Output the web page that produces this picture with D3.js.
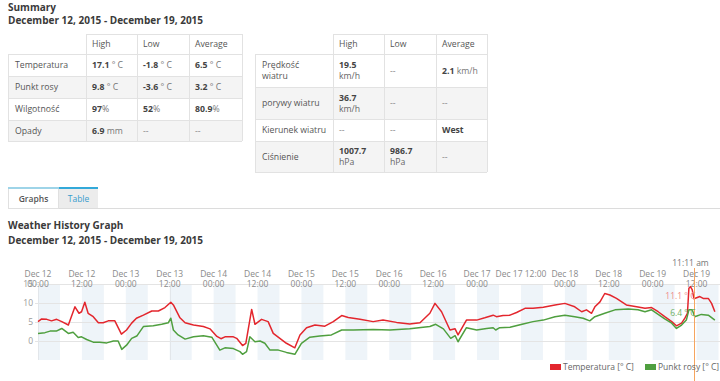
<!DOCTYPE html>
<html>
<head>
<meta charset="utf-8">
<script src="https://cdn.jsdelivr.net/npm/d3@7"></script>
<style>
  body { margin: 0; background: #fff; }
  svg { display: block; font-family: "Open Sans", sans-serif; }
</style>
</head>
<body>
<script>
// ---- summary tables ----
const colHeaders = ['High', 'Low', 'Average']
const summaryLabels = ['Temperatura', 'Punkt rosy', 'Wilgotność', 'Opady']
const summaryCells = [
  [['17.1', ' ° C'], ['-1.8', ' ° C'], ['6.5', ' ° C']],
  [['9.8', ' ° C'], ['-3.6', ' ° C'], ['3.2', ' ° C']],
  [['97', '%'], ['52', '%'], ['80.9', '%']],
  [['6.9', ' mm'], ['--', ''], ['--', '']]
]
const windLabels = [['Prędkość', 'wiatru'], ['porywy wiatru'], ['Kierunek wiatru'], ['Ciśnienie']]
const windCells = [
  [['19.5', 'km/h', true], ['--', ''], ['2.1', ' km/h']],
  [['36.7', 'km/h', true], ['--', ''], ['--', '']],
  [['--', ''], ['--', ''], ['West', '']],
  [['1007.7', 'hPa', true], ['986.7', 'hPa', true], ['--', '']]
]

// ---- graph data (hours after Dec 12 2015 00:00, °C) ----
const tempHours = [0, 1, 2.4, 3.7, 5.1, 6.5, 8.3, 10.1, 11.2, 11.9, 12.8, 13.7, 15.1, 16.5, 17.8, 19.2, 21, 22.8, 24.2, 25.6,
  26.9, 28.8, 31.1, 32.9, 34.7, 36.3, 37, 38.8, 40.2, 42.5, 45.2, 47, 48.9, 50, 51.1, 53.4, 54.3, 55.9, 56.8, 58.4,
  59.3, 61.1, 62.9, 64.3, 66.1, 67.9, 70.2, 71.6, 73.4, 75.7, 78.4, 80.7, 83, 84.8, 88, 91.6, 94.3, 98, 101.6, 104.4,
  107.1, 108.5, 110.3, 112.6, 114, 114.8, 117.1, 119.9, 122.1, 124.4, 125.3, 127.1, 129, 130.8, 133.1, 135.3, 138.1, 141.3, 144, 146.7,
  148.6, 149.9, 151.3, 152.2, 153.6, 154.9, 156.3, 158.1, 160.8, 163.6, 165.9, 167.7, 169.5, 171.3, 173.2, 174.5, 175.9, 176.8, 177.5, 177.9,
  178.3, 178.8, 179.3, 180.9, 181.8, 183.2, 184.1, 185]
const tempValues = [5.1, 5.8, 5.7, 5.3, 5.7, 5.1, 4.2, 9.0, 7.3, 7.7, 10.2, 7.3, 6.4, 4.8, 4.8, 5.3, 5.3, 1.8, 2.9, 4.7,
  6.0, 6.8, 7.9, 7.9, 8.8, 10.2, 9.5, 6.1, 4.8, 4.2, 3.8, 3.2, 1.2, 0.6, 1.1, 1.1, 0.7, -1.2, -0.6, 8.3,
  4.4, 5.7, 5.1, 2.0, 0.7, -0.6, -1.8, 1.6, 3.5, 4.2, 3.9, 5.1, 6.7, 6.2, 5.7, 5.1, 5.5, 4.9, 4.5, 4.8,
  7.3, 9.9, 7.7, 2.9, 3.2, 1.6, 5.5, 5.5, 6.1, 6.8, 6.4, 6.7, 6.8, 7.5, 8.6, 8.6, 8.9, 9.5, 9.9, 9.0,
  7.7, 8.2, 7.3, 9.0, 10.3, 12.5, 12.1, 11.2, 9.5, 9.0, 8.6, 8.8, 7.7, 6.4, 5.1, 4.0, 4.7, 6.0, 7.3, 13.9,
  14.3, 13.5, 11.1, 11.7, 11.2, 11.2, 9.9, 7.7]
const dewHours = [0, 1.9, 3.3, 5, 6.5, 8.3, 9.6, 11, 11.9, 13.3, 15.1, 16.9, 18.8, 20.6, 21.9, 22.9, 24.2, 25.6, 27, 28.8,
  31.5, 33.8, 35.6, 36.3, 37, 38.3, 40.2, 42.5, 45.2, 47.5, 49.7, 51.1, 53.4, 55.2, 55.9, 57, 57.9, 59.3, 60.7, 62,
  63.4, 65.7, 67.9, 70.2, 72, 74.3, 77, 80.2, 83, 86.2, 91.6, 96.2, 101.6, 107.1, 108.7, 110.8, 112.8, 114, 114.8, 117.1,
  119.9, 122.6, 124.4, 125.1, 126.2, 129, 132.6, 135.3, 138.1, 141.3, 144, 146.7, 149, 150.8, 152.2, 154.9, 157.7, 161.3, 164, 165.9,
  167.7, 169.5, 171.3, 173.2, 174.5, 175.9, 177.2, 177.9, 178.8, 179.5, 181.3, 183.2, 185]
const dewValues = [2.0, 2.2, 2.6, 2.6, 3.3, 2.0, 2.3, 0.9, 1.1, 0.4, -0.3, -0.3, -0.5, 0, 0, -2.2, -1.1, 0.7, 1.3, 3.8,
  4.0, 4.4, 4.8, 6.0, 2.9, 1.6, 0.5, 1.1, 1.4, 1.0, -2.4, -1.8, -2.0, -2.8, -3.5, -2.8, 1.1, -0.2, 0, -0.6,
  -2.4, -2.4, -3.0, -3.5, -0.6, 1.0, 1.3, 1.6, 2.9, 2.9, 3.0, 2.9, 3.2, 3.8, 4.4, 3.2, 0.7, 1.4, -0.2, 3.5,
  2.9, 3.3, 3.5, 2.9, 3.5, 3.6, 4.5, 5.1, 5.5, 6.4, 6.8, 6.4, 6.0, 5.3, 6.4, 7.3, 8.2, 8.4, 8.2, 7.7,
  8.2, 7.0, 5.8, 4.7, 3.3, 4.2, 5.5, 8.2, 8.2, 6.4, 7.0, 6.8, 5.5]

const tickHours = [0, 12, 24, 36, 48, 60, 72, 84, 96, 108, 120, 132, 144, 156, 168, 180]
const tickLabels = [['Dec 12', '00:00'], ['Dec 12', '12:00'], ['Dec 13', '00:00'], ['Dec 13', '12:00'],
  ['Dec 14', '00:00'], ['Dec 14', '12:00'], ['Dec 15', '00:00'], ['Dec 15', '12:00'],
  ['Dec 16', '00:00'], ['Dec 16', '12:00'], ['Dec 17', '00:00'], ['Dec 17 12:00'],
  ['Dec 18', '00:00'], ['Dec 18', '12:00'], ['Dec 19', '00:00'], ['Dec 19', '12:00']]
const yTicks = [0, 5, 10, 15]
const cursorHour = 179.18
const cursorLabel = '11:11 am'
const cursorTemp = '11.1 ° C'
const cursorDew = '6.4 ° C'
const seriesNames = ['Temperatura [° C]', 'Punkt rosy [° C]']
const seriesColors = ['#e3262d', '#4f9f3f']

const start = new Date(2015, 11, 12, 0, 0)
const toDate = h => new Date(start.getTime() + h * 3600e3)

const svg = d3.select('body').append('svg')
  .attr('width', 720)
  .attr('height', 381)

// headings
function heading(y, txt) {
  svg.append('text').attr('x', 8).attr('y', y).attr('font-size', 10).attr('font-weight', 700)
    .attr('fill', '#3a3a3a').text(txt)
}
heading(11, 'Summary')
heading(24, 'December 12, 2015 - December 19, 2015')
heading(229, 'Weather History Graph')
heading(244, 'December 12, 2015 - December 19, 2015')

// tables
function drawTable(cols, rows, labels, cells) {
  const g = svg.append('g')
  const x0 = cols[0], x1 = cols[cols.length - 1]
  // striped body rows
  rows.slice(1, -1).forEach((ry, i) => {
    if (i % 2 === 1) {
      g.append('rect').attr('x', x0).attr('y', ry).attr('width', x1 - x0)
        .attr('height', rows[i + 2] - ry).attr('fill', '#f4f4f4')
    }
  })
  // grid lines
  const line = (a, b, c, d) => g.append('line').attr('x1', a).attr('y1', b).attr('x2', c).attr('y2', d)
    .attr('stroke', '#e2e2e2').attr('stroke-width', 1)
  line(cols[1], rows[0] + 0.5, x1, rows[0] + 0.5)
  rows.slice(1).forEach(ry => line(x0, ry + 0.5, x1, ry + 0.5))
  line(x0 + 0.5, rows[1], x0 + 0.5, rows[rows.length - 1])
  cols.slice(1).forEach(cx => line(cx + 0.5, rows[0], cx + 0.5, rows[rows.length - 1]))

  const fs = 8.7
  colHeaders.forEach((h, i) => {
    g.append('text').attr('x', cols[i + 1] + 6).attr('y', (rows[0] + rows[1]) / 2)
      .attr('dy', '0.35em').attr('font-size', fs).attr('fill', '#555').text(h)
  })
  labels.forEach((lab, r) => {
    const cy = (rows[r + 1] + rows[r + 2]) / 2
    const lines = Array.isArray(lab) ? lab : [lab]
    lines.forEach((t, k) => {
      g.append('text').attr('x', x0 + 7).attr('y', cy + (k - (lines.length - 1) / 2) * 11)
        .attr('dy', '0.35em').attr('font-size', fs).attr('fill', '#555').text(t)
    })
    cells[r].forEach((c, ci) => {
      const cx = cols[ci + 1] + 6
      if (c[2]) {
        g.append('text').attr('x', cx).attr('y', cy - 5.5).attr('dy', '0.35em').attr('font-size', fs)
          .attr('font-weight', 700).attr('fill', '#444').text(c[0])
        g.append('text').attr('x', cx).attr('y', cy + 5.5).attr('dy', '0.35em').attr('font-size', fs)
          .attr('fill', '#666').text(c[1])
      } else {
        const t = g.append('text').attr('x', cx).attr('y', cy).attr('dy', '0.35em').attr('font-size', fs)
        t.append('tspan').attr('font-weight', c[0] === '--' ? 400 : 700)
          .attr('fill', c[0] === '--' ? '#888' : '#444').text(c[0])
        t.append('tspan').attr('fill', '#777').text(c[1])
      }
    })
  })
}
drawTable([8, 86, 137, 189, 242], [34, 54, 76, 98, 120, 141], summaryLabels, summaryCells)
drawTable([255, 333, 384, 436, 487], [34, 54, 87, 119, 141, 172], windLabels, windCells)

// tabs
svg.append('line').attr('x1', 8).attr('x2', 720).attr('y1', 208.5).attr('y2', 208.5).attr('stroke', '#dcdcdc')
svg.append('rect').attr('x', 8.5).attr('y', 188.5).attr('width', 50).attr('height', 20)
  .attr('fill', '#fff').attr('stroke', '#e0e0e0')
svg.append('rect').attr('x', 8).attr('y', 187).attr('width', 51).attr('height', 2).attr('fill', '#9ed4e8')
svg.append('rect').attr('x', 59).attr('y', 188).attr('width', 39).attr('height', 20).attr('fill', '#ececec')
svg.append('rect').attr('x', 59).attr('y', 187).attr('width', 39).attr('height', 2).attr('fill', '#33a9d9')
svg.append('text').attr('x', 33.5).attr('y', 199).attr('dy', '0.35em').attr('text-anchor', 'middle')
  .attr('font-size', 8.5).attr('font-weight', 600).attr('fill', '#555').text('Graphs')
svg.append('text').attr('x', 78.5).attr('y', 199).attr('dy', '0.35em').attr('text-anchor', 'middle')
  .attr('font-size', 8.5).attr('fill', '#3a9ccd').text('Table')

// graph
const x = d3.scaleTime().domain([start, toDate(186.4)]).range([38, 720])
const y = d3.scaleLinear().domain([-5, 15]).range([360, 284])
const plot = svg.append('g')

// shaded 6h bands
plot.selectAll('.band').data(tickHours).join('rect')
  .attr('class', 'band')
  .attr('x', h => x(toDate(h)))
  .attr('y', y(15))
  .attr('width', h => Math.min(x(toDate(h + 6)), 720) - x(toDate(h)))
  .attr('height', y(-5) - y(15))
  .attr('fill', '#eef4f9')

plot.selectAll('.grid').data(yTicks).join('line')
  .attr('class', 'grid')
  .attr('x1', 35).attr('x2', 720)
  .attr('y1', d => Math.round(y(d)) + 0.5).attr('y2', d => Math.round(y(d)) + 0.5)
  .attr('stroke', '#e4e4e4')

plot.selectAll('.vgrid').data([0, 36]).join('line')
  .attr('class', 'vgrid')
  .attr('x1', h => Math.round(x(toDate(h))) + 0.5).attr('x2', h => Math.round(x(toDate(h))) + 0.5)
  .attr('y1', y(15)).attr('y2', y(-5))
  .attr('stroke', '#e2e6ea')

plot.selectAll('.ylab').data(yTicks).join('text')
  .attr('class', 'ylab')
  .attr('x', 33).attr('y', d => y(d)).attr('dy', '0.35em')
  .attr('text-anchor', 'end').attr('font-size', 8.5).attr('fill', '#999')
  .text(d => d)

const xl = plot.selectAll('.xlab').data(tickHours).join('text')
  .attr('class', 'xlab')
  .attr('text-anchor', 'middle').attr('font-size', 8.5).attr('fill', '#8a8a8a')
xl.each(function (h, i) {
  const lines = tickLabels[i]
  lines.forEach((t, k) => {
    d3.select(this).append('tspan')
      .attr('x', x(toDate(h))).attr('y', 276.5 + k * 10)
      .text(t)
  })
})

const line = d3.line().x(d => x(toDate(d[0]))).y(d => y(d[1]))
plot.append('path').datum(tempHours.map((h, i) => [h, tempValues[i]]))
  .attr('d', line).attr('fill', 'none').attr('stroke', seriesColors[0]).attr('stroke-width', 1.5)
  .attr('stroke-linejoin', 'round')
plot.append('path').datum(dewHours.map((h, i) => [h, dewValues[i]]))
  .attr('d', line).attr('fill', 'none').attr('stroke', seriesColors[1]).attr('stroke-width', 1.5)
  .attr('stroke-linejoin', 'round')

// cursor
const cx = Math.round(x(toDate(cursorHour))) + 0.5
plot.append('line').attr('x1', cx).attr('x2', cx).attr('y1', 268).attr('y2', 381)
  .attr('stroke', '#f6a55f').attr('stroke-width', 1)
plot.append('text').attr('x', cx - 4).attr('y', 263).attr('dy', '0.35em').attr('text-anchor', 'middle')
  .attr('font-size', 8.5).attr('fill', '#777').text(cursorLabel)
plot.append('text').attr('x', cx + 1).attr('y', 296).attr('dy', '0.35em').attr('text-anchor', 'end')
  .attr('font-size', 8.5).attr('fill', '#f08a8a').text(cursorTemp)
plot.append('text').attr('x', cx + 1).attr('y', 313).attr('dy', '0.35em').attr('text-anchor', 'end')
  .attr('font-size', 8.5).attr('fill', '#6fb063').text(cursorDew)

// legend
const legendX = [550, 645]
seriesNames.forEach((n, i) => {
  svg.append('rect').attr('x', legendX[i]).attr('y', 364).attr('width', 11).attr('height', 6)
    .attr('fill', seriesColors[i])
  svg.append('text').attr('x', legendX[i] + 13).attr('y', 367).attr('dy', '0.35em')
    .attr('font-size', 8.5).attr('fill', '#666').text(n)
})
</script>
</body>
</html>
